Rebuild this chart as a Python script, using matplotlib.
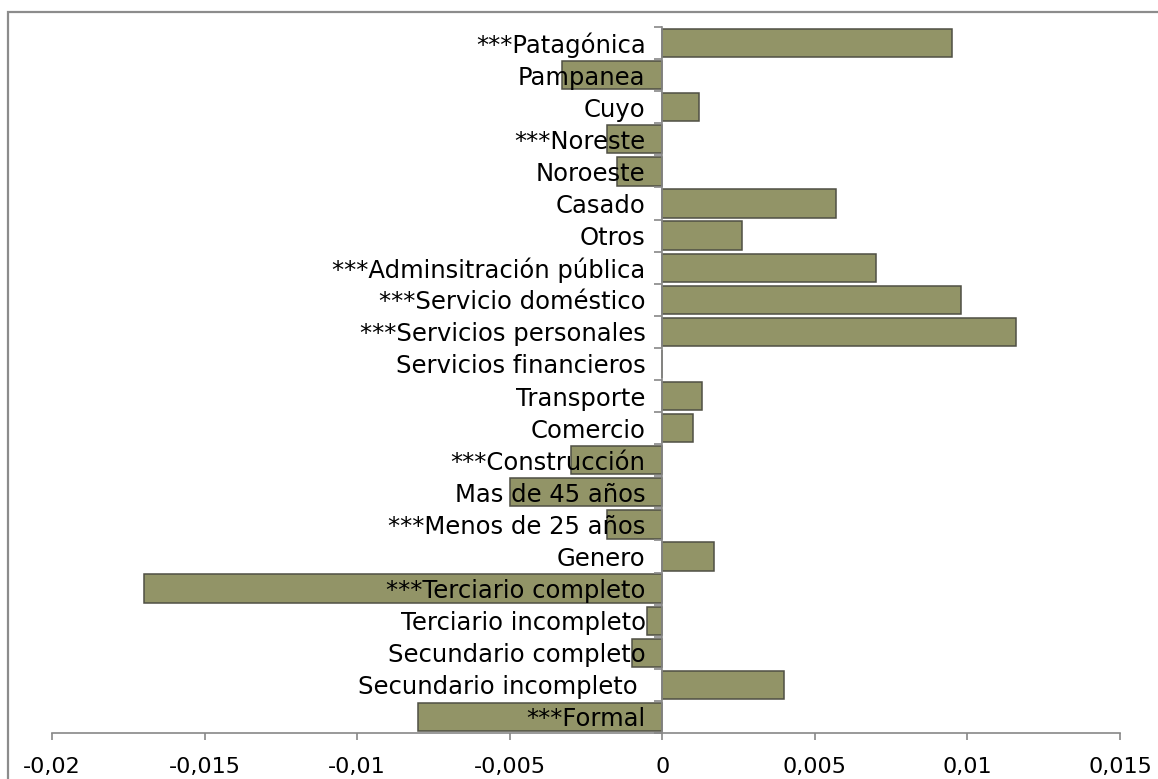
import matplotlib
matplotlib.use("Agg")
import matplotlib.pyplot as plt
from matplotlib.patches import Rectangle
import numpy as np

# Coefficients by variable (bottom to top)
categories = [
    "***Formal",
    "Secundario incompleto ",
    "Secundario completo",
    "Terciario incompleto",
    "***Terciario completo",
    "Genero",
    "***Menos de 25 años",
    "Mas de 45 años",
    "***Construcción",
    "Comercio",
    "Transporte",
    "Servicios financieros",
    "***Servicios personales",
    "***Servicio doméstico",
    "***Adminsitración pública",
    "Otros",
    "Casado",
    "Noroeste",
    "***Noreste",
    "Cuyo",
    "Pampanea",
    "***Patagónica",
]
values = [
    -0.0080,
    0.0040,
    -0.0010,
    -0.0005,
    -0.0170,
    0.0017,
    -0.0018,
    -0.0050,
    -0.0030,
    0.0010,
    0.0013,
    0.0000,
    0.0116,
    0.0098,
    0.0070,
    0.0026,
    0.0057,
    -0.0015,
    -0.0018,
    0.0012,
    -0.0033,
    0.0095,
]
x_ticks = [-0.02, -0.015, -0.01, -0.005, 0, 0.005, 0.01, 0.015]
x_tick_labels = ["-0,02", "-0,015", "-0,01", "-0,005", "0", "0,005", "0,01", "0,015"]

W, H = 1158, 779
fig = plt.figure(figsize=(W / 100, H / 100), dpi=100)
fig.patch.set_facecolor("white")

# outer chart frame
fig.add_artist(Rectangle((8 / W, -0.05), 1.2, 1 - 12 / H + 0.05,
                         transform=fig.transFigure, fill=False,
                         edgecolor="#8c8c8c", linewidth=1.6))

ax = fig.add_axes([52 / W, 1 - 733 / H, (1120 - 52) / W, (733 - 27) / H])

y = np.arange(len(categories))
ax.barh(y, values, height=0.88, color="#929467", edgecolor="#4f4f44",
        linewidth=1.1, zorder=1)

ax.set_xlim(-0.02, 0.015)
ax.set_ylim(-0.5, len(categories) - 0.5)

axis_gray = "#878787"
for side in ("top", "right"):
    ax.spines[side].set_visible(False)
ax.spines["left"].set_position(("data", 0))
ax.spines["left"].set_color(axis_gray)
ax.spines["left"].set_linewidth(1.2)
ax.spines["bottom"].set_color(axis_gray)
ax.spines["bottom"].set_linewidth(1.2)

ax.set_xticks(x_ticks)
ax.set_xticklabels(x_tick_labels, fontsize=16)
ax.tick_params(axis="x", direction="out", length=5, width=1.2,
               color=axis_gray, pad=12)

ax.set_yticks(y)
ax.set_yticklabels(categories, fontsize=17.5)
ax.set_yticks(np.arange(len(categories) + 1) - 0.5, minor=True)
ax.tick_params(axis="y", which="major", length=0, pad=12)
ax.tick_params(axis="y", which="minor", direction="out", length=6,
               width=1.2, color=axis_gray)

fig.savefig("out.png", dpi=100, facecolor="white")
